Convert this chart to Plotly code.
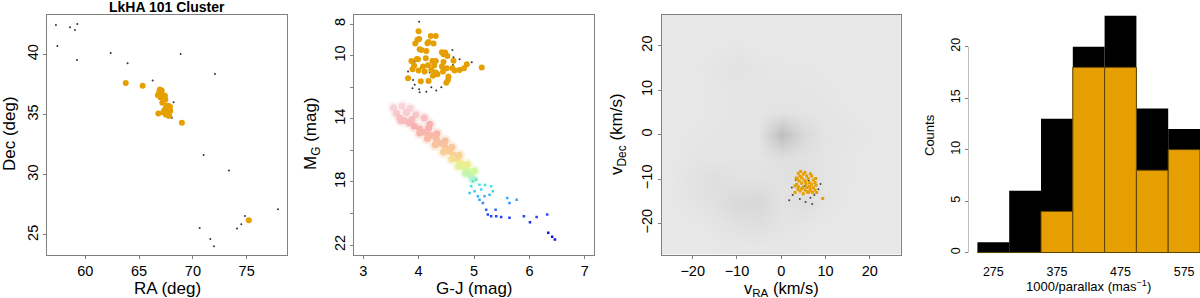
import plotly.graph_objects as go

W, H = 1200, 298
FONT = "Liberation Sans"
ORANGE = "#E69F00"
FRAME = "#808080"

# ---------------- Panel 1: sky positions ----------------
p1_orange_ra = [63.76, 65.33, 66.94, 67.06, 66.82, 67.19, 67.00, 67.40, 66.75, 67.16,
                67.56, 67.75, 67.47, 67.71, 67.87, 67.31, 67.62, 67.47, 67.71, 66.79,
                67.44, 68.98, 75.20, 67.10, 66.88, 67.90, 67.60, 67.80, 67.50, 67.25]
p1_orange_dec = [37.61, 37.39, 37.08, 36.86, 36.67, 36.61, 36.42, 36.56, 36.61, 35.98,
                 35.75, 35.70, 35.50, 35.42, 35.64, 35.31, 35.15, 35.01, 34.92, 35.09,
                 36.25, 34.31, 26.22, 37.00, 36.90, 35.30, 35.55, 34.90, 35.35, 35.20]
p1_black_ra = [57.27, 57.40, 58.58, 59.04, 59.26, 59.23, 62.36, 63.93, 66.26, 68.86,
               72.05, 68.21, 68.05, 71.00, 73.35, 70.63, 71.62, 71.96, 74.10, 74.50,
               74.84, 77.91, 67.44]
p1_black_dec = [42.43, 40.69, 42.24, 42.02, 42.51, 39.52, 40.10, 39.25, 37.83, 40.02,
                38.36, 36.03, 34.73, 31.65, 30.35, 25.59, 24.67, 24.06, 25.53, 25.89,
                26.58, 27.14, 35.28]

# ---------------- Panel 2: colour-magnitude ----------------
p2_orange_gj = [4.00, 4.01, 3.98, 3.94, 4.02, 4.05, 4.16, 4.18, 4.22, 4.31,
                4.27, 4.14, 3.97, 3.99, 3.87, 4.13, 4.25, 4.31, 4.42, 4.45,
                4.48, 4.52, 4.45, 4.63, 3.89, 3.81, 3.92, 4.08, 4.17, 4.28,
                4.23, 4.31, 4.34, 4.26, 4.42, 4.44, 4.51, 4.54, 4.61, 4.65,
                4.74, 4.82, 4.87, 5.14, 4.04, 4.18, 4.50, 4.53, 4.11, 4.00]
p2_orange_mg = [8.46, 8.95, 8.99, 9.24, 9.60, 9.64, 9.22, 9.14, 8.76, 8.76,
                9.24, 9.71, 10.21, 10.23, 10.34, 10.17, 10.34, 10.34, 9.79, 9.92,
                9.81, 10.02, 10.40, 10.32, 10.86, 11.43, 10.63, 10.69, 10.61, 10.63,
                10.91, 11.07, 11.18, 11.28, 10.69, 11.01, 10.80, 11.33, 10.80, 10.95,
                10.91, 10.80, 10.55, 10.76, 11.62, 11.60, 11.71, 11.54, 11.01, 10.95]
p2_black_gj = [4.01, 4.61, 4.63, 4.74, 4.96, 3.93, 3.81, 3.90, 3.89, 4.01,
               4.02, 4.14, 4.23, 4.32, 4.41, 4.09, 4.04, 4.20, 4.62, 3.93, 4.23]
p2_black_mg = [7.85, 9.64, 10.11, 10.23, 10.42, 10.38, 11.01, 11.54, 12.06, 12.13,
               12.32, 12.29, 12.00, 12.21, 12.00, 11.12, 10.80, 11.07, 10.59, 11.85, 11.33]
# field stars: diffuse main-sequence band
band_gj = [3.55, 3.70, 3.85, 3.60, 3.78, 3.95, 4.10, 3.68, 3.88, 4.20,
           3.66, 3.74, 3.83, 3.92, 4.02, 4.12, 4.22, 4.32, 4.40, 4.48,
           4.56, 4.63, 4.70, 4.76, 4.82, 4.88, 4.93, 4.98,
           4.02, 4.16, 4.30, 4.45, 4.60, 4.72, 4.85,
           4.18, 4.33, 4.48, 4.60, 4.73, 4.88, 5.00]
band_mg = [13.3, 13.2, 13.35, 13.65, 13.6, 13.75, 13.95, 14.1, 14.05, 14.35,
           13.95, 14.1, 14.25, 14.45, 14.65, 14.85, 15.05, 15.3, 15.55, 15.8,
           16.05, 16.3, 16.55, 16.8, 17.05, 17.3, 17.55, 17.8,
           14.9, 15.25, 15.65, 16.1, 16.55, 17.0, 17.45,
           14.6, 14.95, 15.4, 15.8, 16.3, 16.9, 17.3]
# field stars: faint discrete tail
tail_gj = [4.98, 5.04, 4.95, 5.10, 5.01, 5.13, 4.92, 5.07, 5.16, 5.22,
           5.25, 5.31, 5.39, 5.40, 5.49, 5.64, 5.60, 5.64, 5.77, 5.90,
           6.01, 6.13, 6.32, 6.34, 6.41, 6.46, 5.10, 5.19, 5.28, 5.34, 5.20, 5.31]
tail_mg = [17.96, 17.85, 18.27, 18.17, 18.59, 18.48, 18.69, 18.91, 19.33, 19.75,
           20.06, 20.17, 19.75, 20.17, 20.21, 20.27, 19.01, 19.33, 19.12, 20.17,
           20.55, 20.21, 20.06, 21.22, 21.47, 21.64, 19.12, 18.91, 18.80, 18.59, 18.19, 18.27]

# ---------------- Panel 3: tangential velocities ----------------
p3_orange_vra = [3.86, 4.40, 4.99, 5.38, 5.76, 4.63, 3.64, 4.09, 5.15, 6.12,
                 6.89, 7.25, 6.35, 6.89, 5.60, 4.63, 3.50, 3.12, 3.86, 4.86,
                 5.76, 6.51, 7.25, 7.64, 6.73, 5.38, 4.25, 3.12, 6.12, 7.12,
                 8.02, 9.38, 7.64, 7.86, 4.20, 5.50, 6.60, 3.40, 5.00, 6.40,
                 4.60, 7.80, 3.80, 5.90]
p3_orange_vdec = [-8.71, -8.33, -8.94, -8.55, -9.31, -9.69, -10.06, -10.44, -10.21, -9.90,
                  -9.31, -10.21, -10.81, -11.19, -11.19, -10.96, -11.19, -11.57, -11.71, -11.93,
                  -11.93, -12.15, -11.93, -12.47, -12.69, -12.47, -12.69, -13.05, -13.05, -13.05,
                  -13.05, -14.40, -10.81, -11.41, -9.30, -10.60, -8.80, -9.80, -13.30, -11.60,
                  -12.20, -9.90, -12.30, -12.80]
p3_black_vra = [2.6, 4.2, 6.6, 7.5, 8.4, 6.2, 5.3, 2.4, 8.9, 3.3, 7.0, 5.5, 1.8]
p3_black_vdec = [-13.6, -14.5, -14.2, -13.6, -12.3, -10.4, -11.6, -11.9, -11.1, -10.2, -15.6, -15.2, -14.8]
# field-star density (relative), coarse grid read from the grey cloud
dens_v = [-25, -20, -15, -10, -5, 0, 5, 10, 15, 20, 25]
dens_grid = [
    [0.05, 0.05, 0.06, 0.08, 0.08, 0.08, 0.06, 0.05, 0.05, 0.05, 0.05],   # vDec -25
    [0.05, 0.06, 0.10, 0.18, 0.22, 0.12, 0.10, 0.06, 0.05, 0.05, 0.05],   # -20
    [0.06, 0.12, 0.18, 0.30, 0.32, 0.15, 0.22, 0.12, 0.06, 0.05, 0.05],   # -15
    [0.06, 0.15, 0.22, 0.15, 0.15, 0.15, 0.22, 0.12, 0.08, 0.06, 0.05],   # -10
    [0.06, 0.10, 0.10, 0.12, 0.12, 0.22, 0.18, 0.12, 0.08, 0.06, 0.05],   # -5
    [0.05, 0.08, 0.10, 0.10, 0.12, 0.75, 0.30, 0.12, 0.10, 0.08, 0.05],   # 0
    [0.05, 0.06, 0.08, 0.10, 0.10, 0.15, 0.12, 0.10, 0.08, 0.06, 0.05],   # 5
    [0.05, 0.06, 0.08, 0.10, 0.10, 0.10, 0.10, 0.08, 0.06, 0.05, 0.05],   # 10
    [0.05, 0.06, 0.10, 0.15, 0.10, 0.08, 0.08, 0.06, 0.05, 0.05, 0.05],   # 15
    [0.05, 0.05, 0.06, 0.08, 0.06, 0.06, 0.05, 0.05, 0.05, 0.05, 0.05],   # 20
    [0.05, 0.05, 0.05, 0.05, 0.05, 0.05, 0.05, 0.05, 0.05, 0.05, 0.05],   # 25
]

# ---------------- Panel 4: distance histogram ----------------
hist_centers = [275, 325, 375, 425, 475, 525, 575]
hist_all = [1, 6, 13, 20, 23, 14, 12]
hist_members = [0, 0, 4, 18, 18, 8, 10]

# colour scale for field stars in the CMD (by magnitude)
cmd_scale = [
    [0.000, "#f2c8d0"], [0.118, "#f0a0a8"], [0.235, "#f06060"], [0.353, "#f28040"],
    [0.447, "#f2a828"], [0.506, "#e6dc20"], [0.565, "#a0ee30"], [0.635, "#50e8c0"],
    [0.706, "#40d8f8"], [0.800, "#3090ff"], [0.906, "#2040ff"], [1.000, "#1010f0"],
]

fig = go.Figure()

# Panel 1
fig.add_trace(go.Scatter(x=p1_black_ra, y=p1_black_dec, mode="markers", xaxis="x", yaxis="y",
                         marker=dict(size=2, color="#333333"), showlegend=False))
fig.add_trace(go.Scatter(x=p1_orange_ra, y=p1_orange_dec, mode="markers", xaxis="x", yaxis="y",
                         marker=dict(size=6, color=ORANGE), showlegend=False))

# Panel 2
fig.add_trace(go.Scatter(x=band_gj, y=band_mg, mode="markers", xaxis="x2", yaxis="y2",
                         opacity=0.15,
                         marker=dict(size=12, color=band_mg, colorscale=cmd_scale, cmin=12.5, cmax=21),
                         showlegend=False))
fig.add_trace(go.Scatter(x=band_gj, y=band_mg, mode="markers", xaxis="x2", yaxis="y2",
                         opacity=0.4,
                         marker=dict(size=7, color=band_mg, colorscale=cmd_scale, cmin=12.5, cmax=21),
                         showlegend=False))
fig.add_trace(go.Scatter(x=tail_gj, y=tail_mg, mode="markers", xaxis="x2", yaxis="y2",
                         marker=dict(size=2.5, symbol="square", color=tail_mg, colorscale=cmd_scale,
                                     cmin=12.5, cmax=21),
                         showlegend=False))
fig.add_trace(go.Scatter(x=p2_black_gj, y=p2_black_mg, mode="markers", xaxis="x2", yaxis="y2",
                         marker=dict(size=2, color="#333333"), showlegend=False))
fig.add_trace(go.Scatter(x=p2_orange_gj, y=p2_orange_mg, mode="markers", xaxis="x2", yaxis="y2",
                         marker=dict(size=6, color=ORANGE), showlegend=False))

# Panel 3
fig.add_trace(go.Heatmap(x=dens_v, y=dens_v, z=dens_grid, xaxis="x3", yaxis="y3",
                         colorscale=[[0, "#ebebeb"], [1, "#b0b0b0"]], zmin=0, zmax=1,
                         zsmooth="best", showscale=False, hoverinfo="skip"))
fig.add_trace(go.Scatter(x=p3_black_vra, y=p3_black_vdec, mode="markers", xaxis="x3", yaxis="y3",
                         marker=dict(size=2, color="#444444"), showlegend=False))
fig.add_trace(go.Scatter(x=p3_orange_vra, y=p3_orange_vdec, mode="markers", xaxis="x3", yaxis="y3",
                         marker=dict(size=3, symbol="square", color=ORANGE), showlegend=False))

# Panel 4
fig.add_trace(go.Bar(x=hist_centers, y=hist_all, width=50, xaxis="x4", yaxis="y4",
                     marker=dict(color="black", line=dict(color="black", width=0)), showlegend=False))
fig.add_trace(go.Bar(x=hist_centers, y=hist_members, width=50, xaxis="x4", yaxis="y4",
                     marker=dict(color=ORANGE, line=dict(color="#5c4300", width=1)), showlegend=False))


def px_x(p):
    return p / W


def px_y(p):
    return 1 - p / H


TOP, BOT = 14.7, 254.5
frame_axis = dict(showline=True, mirror=True, linecolor=FRAME, linewidth=1, ticks="outside",
                  ticklen=3, tickcolor=FRAME, showgrid=False, zeroline=False,
                  tickfont=dict(family=FONT, size=14.5, color="black"))

fig.update_layout(
    width=W, height=H, margin=dict(l=0, r=0, t=0, b=0),
    paper_bgcolor="white", plot_bgcolor="white", barmode="overlay",
    font=dict(family=FONT, color="black"),
    xaxis=dict(frame_axis, domain=[px_x(47.3), px_x(286.7)], range=[56.47, 78.72],
               tickvals=[60, 65, 70, 75], anchor="y"),
    yaxis=dict(frame_axis, domain=[px_y(BOT), px_y(TOP)], range=[23.38, 43.29],
               tickvals=[25, 30, 35, 40], tickangle=-90, anchor="x"),
    xaxis2=dict(frame_axis, domain=[px_x(354.3), px_x(593.7)], range=[2.84, 7.16],
                tickvals=[3, 4, 5, 6, 7], anchor="y2"),
    yaxis2=dict(frame_axis, domain=[px_y(BOT), px_y(TOP)], range=[22.59, 7.41],
                tickvals=[8, 10, 14, 18, 22], tickangle=-90, anchor="x2",
                minor=dict(tickvals=[12, 16, 20], ticks="outside", ticklen=3, tickcolor=FRAME,
                           showgrid=False)),
    xaxis3=dict(frame_axis, domain=[px_x(661.7), px_x(900.7)], range=[-27, 27],
                tickvals=[-20, -10, 0, 10, 20], anchor="y3"),
    yaxis3=dict(frame_axis, domain=[px_y(BOT), px_y(TOP)], range=[-27, 27],
                tickvals=[-20, -10, 0, 10, 20], tickangle=-90, anchor="x3"),
    xaxis4=dict(domain=[px_x(968.5), 1.0], range=[236, 600], showline=False, ticks="",
                tickvals=[275, 375, 475, 575], showgrid=False, zeroline=False,
                tickfont=dict(family=FONT, size=12.5, color="black"), anchor="y4"),
    yaxis4=dict(domain=[px_y(262.0), px_y(6.4)], range=[-0.92, 23.92], showline=False,
                ticks="outside", ticklen=3, tickcolor=FRAME, tickvals=[0, 5, 10, 15, 20],
                tickangle=-90, showgrid=False, zeroline=False,
                tickfont=dict(family=FONT, size=12.5, color="black"), anchor="x4"),
)

fig.add_shape(type="line", xref="x4", yref="y4", x0=236, x1=236, y0=0, y1=20,
              line=dict(color=FRAME, width=1))

ann = []


def add_text(text, x, y, size, angle=0, bold=False):
    ann.append(dict(text=("<b>%s</b>" % text) if bold else text, x=px_x(x), y=px_y(y),
                    xref="paper", yref="paper", showarrow=False, textangle=angle,
                    xanchor="center", yanchor="middle",
                    font=dict(family=FONT, size=size, color="black")))


add_text("LkHA 101 Cluster", 167, 7, 14, bold=True)
add_text("RA (deg)", 167, 288, 17)
add_text("Dec (deg)", 9, 134, 17, angle=-90)
add_text("G-J (mag)", 474, 288, 17)
add_text("M<sub>G</sub> (mag)", 312, 134, 17, angle=-90)
add_text("v<sub>RA</sub> (km/s)", 781, 288.5, 16.5)
add_text("v<sub>Dec</sub> (km/s)", 618, 134, 17, angle=-90)
add_text("1000/parallax (mas<sup>−1</sup>)", 1088, 286, 13)
add_text("Counts", 929, 135, 13, angle=-90)
fig.update_layout(annotations=ann)

fig.write_html("out.html", config={"displayModeBar": False},
               post_script="document.body.style.margin='0px';document.body.style.overflow='hidden';")
